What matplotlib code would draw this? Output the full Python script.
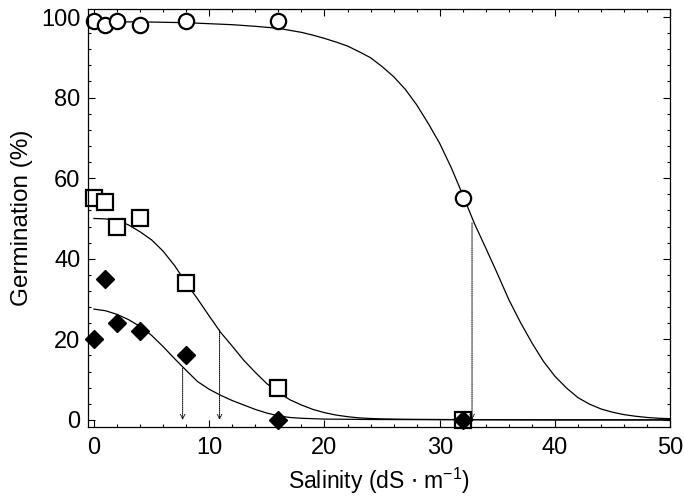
import matplotlib.pyplot as plt

plt.rcParams['font.family'] = ['Liberation Sans', 'DejaVu Sans']

# observed germination (%) at each salinity level
salinity = [0, 1, 2, 4, 8, 16, 32]
germ_circle = [99, 98, 99, 98, 99, 99, 55]
germ_square = [55, 54, 48, 50, 34, 8, 0]
germ_diamond = [20, 35, 24, 22, 16, 0, 0]

# fitted curves
fit_circle_x = [0, 4, 8, 12, 14, 16, 17, 18, 19, 20, 21, 22, 23, 24, 25, 26, 27, 28, 29, 30,
                31, 32, 33, 34, 35, 36, 37, 38, 39, 40, 41, 42, 43, 44, 45, 46, 47, 48, 49, 50]
fit_circle_y = [98.8, 98.8, 98.6, 98.1, 97.7, 97.2, 96.7, 96.2, 95.5, 94.7, 93.8, 92.8, 91.4,
                89.9, 87.7, 85.2, 82.1, 78.2, 73.6, 68.6, 62.6, 55.8, 48.8, 42.6, 36.3, 29.8,
                24.2, 19.1, 14.5, 10.8, 7.9, 5.5, 3.9, 2.7, 1.9, 1.3, 0.9, 0.6, 0.4, 0.3]
fit_square_x = [0, 1, 2, 3, 4, 5, 6, 7, 8, 9, 10, 11, 12, 13, 14, 15, 16, 17, 18, 19, 20,
                21, 22, 23, 24, 25, 27, 30, 35, 40, 50]
fit_square_y = [50.0, 49.9, 49.5, 48.4, 46.7, 44.7, 41.9, 38.3, 34.0, 30.0, 25.8, 21.7, 18.3,
                14.8, 11.8, 9.0, 6.8, 5.0, 3.7, 2.6, 1.8, 1.2, 0.8, 0.5, 0.35, 0.25, 0.15,
                0.1, 0.05, 0.0, 0.0]
fit_diamond_x = [0, 1, 2, 3, 4, 5, 6, 7, 8, 9, 10, 11, 12, 13, 14, 15, 16, 17, 18, 20,
                 24, 30, 40, 50]
fit_diamond_y = [27.5, 27.1, 26.2, 24.9, 23.2, 21.0, 18.2, 15.2, 12.3, 9.5, 7.6, 6.1, 4.8,
                 3.7, 2.6, 1.7, 1.0, 0.6, 0.4, 0.2, 0.1, 0.05, 0.0, 0.0]

# salinity giving 50 % reduction (dotted arrows)
half_x = [7.7, 10.9, 32.8]
half_y = [12.9, 22.3, 48.9]

fig, ax = plt.subplots(figsize=(6.84, 4.99), dpi=100)
fig.subplots_adjust(left=0.128, right=0.980, bottom=0.144, top=0.982)

ax.plot(fit_circle_x, fit_circle_y, color='black', lw=0.9)
ax.plot(fit_square_x, fit_square_y, color='black', lw=0.9)
ax.plot(fit_diamond_x, fit_diamond_y, color='black', lw=0.9)

for x0, y0 in zip(half_x, half_y):
    ax.annotate('', xy=(x0, 0), xytext=(x0, y0),
                arrowprops=dict(arrowstyle='->', linestyle=(0, (1, 1)), lw=0.7,
                                color='black', mutation_scale=8,
                                shrinkA=0, shrinkB=0))

ax.plot(salinity, germ_circle, 'o', ms=11, mfc='white', mec='black', mew=1.6, clip_on=False)
ax.plot(salinity, germ_square, 's', ms=11, mfc='white', mec='black', mew=1.6, clip_on=False)
ax.plot(salinity, germ_diamond, 'D', ms=9, mfc='black', mec='black', clip_on=False)

ax.set_xlim(-0.55, 50)
ax.set_ylim(-1.8, 102)
ax.set_xticks([0, 10, 20, 30, 40, 50])
ax.set_xticks(range(0, 51, 2), minor=True)
ax.set_yticks([0, 20, 40, 60, 80, 100])
ax.set_yticks(range(0, 101, 4), minor=True)
ax.tick_params(which='both', direction='in', top=True, right=True, labelsize=17, width=0.8)
ax.tick_params(axis='y', which='major', length=5, pad=5)
ax.tick_params(axis='x', which='major', length=5, pad=7)
ax.tick_params(which='minor', length=2.5)
for s in ax.spines.values():
    s.set_linewidth(0.9)

ax.set_xlabel('Salinity (dS $\\cdot$ m$^{\\mathregular{-1}}$)', fontsize=16.5, labelpad=5)
ax.set_ylabel('Germination (%)', fontsize=17.5, labelpad=6)

fig.savefig('out.png')
